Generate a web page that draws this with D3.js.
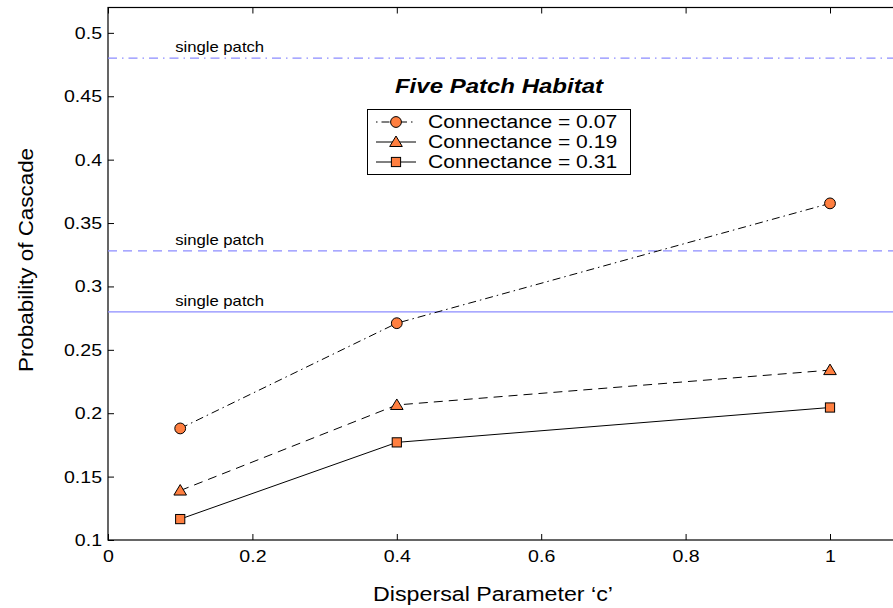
<!DOCTYPE html>
<html>
<head>
<meta charset="utf-8">
<script src="https://cdn.jsdelivr.net/npm/d3@7"></script>
<style>
  html, body { margin: 0; padding: 0; background: #fff; }
  svg { display: block; font-family: "Liberation Sans", Arial, Helvetica, sans-serif; }
</style>
</head>
<body>
<svg id="chart" width="893" height="608"></svg>
<script>
// Dispersal parameter values (x) shared by all series
const dispersal = [0.1, 0.4, 1.0];

// Probability of cascade for each connectance level
const conn007 = [0.188, 0.271, 0.3655];
const conn019 = [0.139, 0.2065, 0.234];
const conn031 = [0.1165, 0.177, 0.2045];

const seriesNames = ["Connectance = 0.07", "Connectance = 0.19", "Connectance = 0.31"];
const seriesMarkers = ["circle", "triangle", "square"];
const seriesDash = ["8,4,1.5,4", "9,6", null];

// Single-patch reference levels
const singlePatch = [0.48, 0.328, 0.28];
const singlePatchDash = ["9,5,1.5,5", "9,6", null];

const xTicks = [0, 0.2, 0.4, 0.6, 0.8, 1];
const yTicks = [0.1, 0.15, 0.2, 0.25, 0.3, 0.35, 0.4, 0.45, 0.5];

const svg = d3.select("#chart");
const mLeft = 108, mTop = 7.5, mBottom = 540;
const mRight = mLeft + 1.2 * 722;

const x = d3.scaleLinear().domain([0, 1.2]).range([mLeft, mRight]);
const y = d3.scaleLinear().domain([0.1, 0.52]).range([mBottom, mTop]);

const markerFill = "#ff7f40";
const refColor = "#8c8cff";
const WIDEN = 1.15;

// widen glyphs slightly (wide Helvetica-like look)
function widen(sel, f = WIDEN) {
  sel.each(function () {
    const len = this.getComputedTextLength();
    d3.select(this).attr("textLength", len * f).attr("lengthAdjust", "spacingAndGlyphs");
  });
  return sel;
}

// frame + ticks
const g = svg.append("g");
g.append("rect").attr("x", mLeft).attr("y", mTop)
  .attr("width", mRight - mLeft).attr("height", mBottom - mTop)
  .attr("fill", "none").attr("stroke", "#000").attr("stroke-width", 1.2);

const xAxis = d3.axisBottom(x).tickValues(xTicks).tickSizeInner(-6).tickSizeOuter(0)
  .tickPadding(10).tickFormat(d => d3.format("~g")(d));
g.append("g").attr("transform", `translate(0,${mBottom})`).call(xAxis)
  .call(a => a.select(".domain").remove())
  .call(a => a.selectAll("text").attr("font-size", 17).attr("fill", "#000")
    .attr("font-family", "Liberation Sans, Arial, sans-serif").call(widen));
g.append("g").attr("transform", `translate(0,${mTop})`)
  .call(d3.axisTop(x).tickValues(xTicks).tickSizeInner(-6).tickSizeOuter(0).tickFormat(""))
  .call(a => a.select(".domain").remove());

const yAxis = d3.axisLeft(y).tickValues(yTicks).tickSizeInner(-6).tickSizeOuter(0)
  .tickPadding(6).tickFormat(d => d3.format("~g")(d));
g.append("g").attr("transform", `translate(${mLeft},0)`).call(yAxis)
  .call(a => a.select(".domain").remove())
  .call(a => a.selectAll("text").attr("font-size", 17).attr("fill", "#000")
    .attr("font-family", "Liberation Sans, Arial, sans-serif").call(widen));

// single patch reference lines
singlePatch.forEach((v, i) => {
  svg.append("line")
    .attr("x1", mLeft).attr("x2", mRight)
    .attr("y1", y(v)).attr("y2", y(v))
    .attr("stroke", refColor).attr("stroke-width", 1.2)
    .attr("stroke-dasharray", singlePatchDash[i]);
  svg.append("text")
    .attr("x", x(0.093)).attr("y", y(v) - 6)
    .attr("font-size", 14.5).attr("fill", "#000")
    .text("single patch").call(widen);
});

// marker drawing helper
function drawMarker(sel, type, cx, cy) {
  if (type === "circle") {
    sel.append("circle").attr("cx", cx).attr("cy", cy).attr("r", 5.4)
      .attr("fill", markerFill).attr("stroke", "#000").attr("stroke-width", 1);
  } else if (type === "triangle") {
    sel.append("path")
      .attr("d", `M${cx},${cy - 6}L${cx + 6.3},${cy + 4.5}L${cx - 6.3},${cy + 4.5}Z`)
      .attr("fill", markerFill).attr("stroke", "#000").attr("stroke-width", 1);
  } else {
    sel.append("rect").attr("x", cx - 4.6).attr("y", cy - 4.6)
      .attr("width", 9.2).attr("height", 9.2)
      .attr("fill", markerFill).attr("stroke", "#000").attr("stroke-width", 1);
  }
}

// data series
const allSeries = [conn007, conn019, conn031];
const line = d3.line().x(d => x(d[0])).y(d => y(d[1]));
allSeries.forEach((vals, i) => {
  const pts = dispersal.map((d, j) => [d, vals[j]]);
  svg.append("path").datum(pts).attr("d", line)
    .attr("fill", "none").attr("stroke", "#000").attr("stroke-width", 1)
    .attr("stroke-dasharray", seriesDash[i]);
  const mg = svg.append("g");
  pts.forEach(p => drawMarker(mg, seriesMarkers[i], x(p[0]), y(p[1])));
});

// title
svg.append("text").attr("x", 499).attr("y", 93)
  .attr("text-anchor", "middle").attr("font-size", 20)
  .attr("font-weight", "bold").attr("font-style", "italic")
  .text("Five Patch Habitat").call(widen, 1.2);

// legend
const lg = svg.append("g");
lg.append("rect").attr("x", 367.5).attr("y", 109.5).attr("width", 263).attr("height", 65)
  .attr("fill", "#fff").attr("stroke", "#000").attr("stroke-width", 1);
seriesNames.forEach((name, i) => {
  const ly = 122 + i * 20;
  lg.append("line").attr("x1", 376).attr("x2", 416).attr("y1", ly).attr("y2", ly)
    .attr("stroke", "#000").attr("stroke-width", 1)
    .attr("stroke-dasharray", i === 0 ? "1.5,4,8,4" : null);
  drawMarker(lg, seriesMarkers[i], 396, ly);
  lg.append("text").attr("x", 428).attr("y", ly + 6)
    .attr("font-size", 18).text(name).call(widen, 1.17);
});

// axis labels
svg.append("text").attr("x", 493).attr("y", 601)
  .attr("text-anchor", "middle").attr("font-size", 20)
  .text("Dispersal Parameter \u2018c\u2019").call(widen, 1.16);
svg.append("text")
  .attr("transform", `translate(33,${260}) rotate(-90)`)
  .attr("text-anchor", "middle").attr("font-size", 20)
  .text("Probability of Cascade").call(widen, 1.12);
</script>
</body>
</html>
